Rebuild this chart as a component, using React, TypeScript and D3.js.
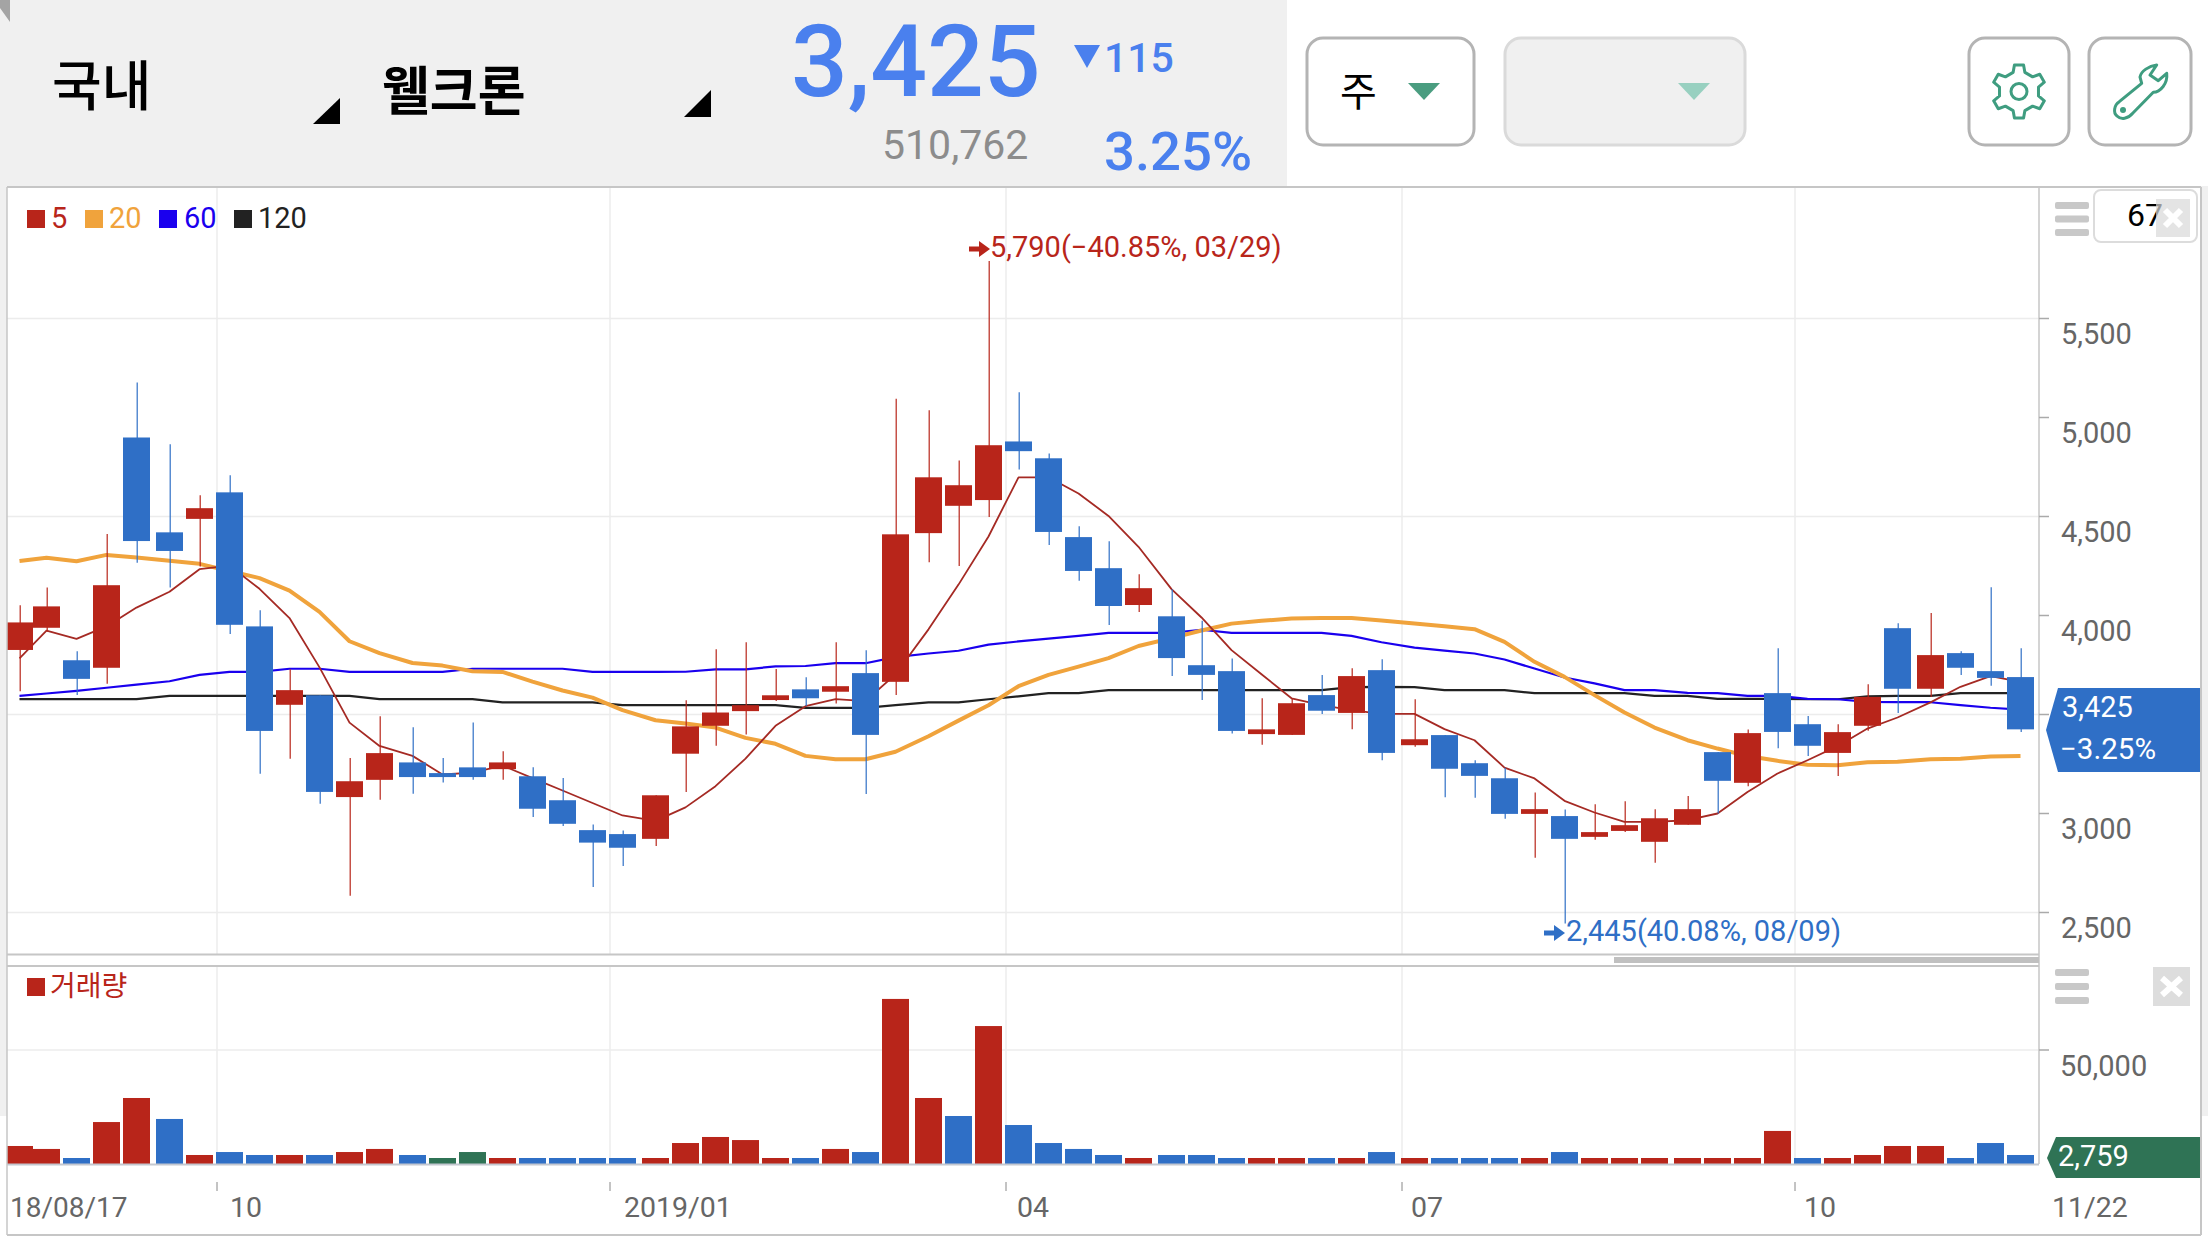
// @ts-nocheck
import { useRef, useEffect } from "react";
import * as d3 from "d3";

const WIDTH = 2208;
const HEIGHT = 1242;

// weekly candles, 2018/08/17 .. 2019/11/22 (67 weeks)
const weeks = d3.range(67).map((i) => `w${i}`);

const opens = [3826, 3938, 3774, 3736, 4899, 4420, 4488, 4622, 3945, 3549, 3597, 3083, 3170, 3258, 3204, 3233, 3224, 3188, 3067, 2916, 2896, 2872, 3302, 3443, 3517, 3573, 3627, 3615, 3709, 3665, 4416, 4554, 4583, 4879, 4794, 4396, 4239, 4053, 3996, 3749, 3719, 3401, 3397, 3598, 3508, 3724, 3345, 3396, 3254, 3178, 2998, 2987, 2882, 2912, 2857, 2943, 3310, 3155, 3608, 3451, 3306, 3443, 3936, 3630, 3810, 3719, 3689];
const highs = [4052, 4142, 3819, 4411, 5177, 4865, 4607, 4708, 4027, 3729, 3597, 3280, 3491, 3435, 3280, 3460, 3314, 3233, 3179, 2945, 2914, 3092, 3572, 3829, 3865, 3730, 3688, 3865, 3825, 5095, 5036, 4783, 5790, 5128, 4818, 4451, 4375, 4208, 4133, 3973, 3783, 3582, 3582, 3699, 3734, 3779, 3577, 3396, 3269, 3231, 3106, 3020, 3047, 3062, 3022, 3088, 3310, 3424, 3835, 3492, 3451, 3653, 3961, 4012, 3820, 4143, 3835];
const lows = [3617, 3918, 3599, 3655, 4266, 4142, 4247, 3906, 3201, 3276, 3049, 2584, 3069, 3100, 3156, 3170, 3170, 2982, 2937, 2629, 2735, 2836, 3109, 3342, 3399, 3568, 3543, 3556, 3098, 3599, 4269, 4250, 4498, 4738, 4356, 4175, 3952, 4018, 3695, 3573, 3404, 3347, 3397, 3502, 3426, 3269, 3337, 3082, 3079, 2973, 2776, 2445, 2867, 2907, 2751, 2943, 3000, 3138, 3330, 3290, 3189, 3418, 3507, 3589, 3699, 3645, 3412];
const closes = [3965, 4046, 3680, 4153, 4376, 4326, 4542, 3953, 3417, 3623, 3109, 3163, 3305, 3184, 3184, 3184, 3258, 3024, 2948, 2853, 2827, 3092, 3440, 3510, 3547, 3597, 3582, 3643, 3397, 4410, 4698, 4658, 4860, 4830, 4422, 4225, 4048, 4138, 3785, 3700, 3417, 3425, 3557, 3519, 3694, 3306, 3375, 3226, 3190, 2998, 3022, 2872, 2906, 2941, 2976, 3022, 3165, 3406, 3412, 3342, 3411, 3589, 3630, 3800, 3736, 3685, 3425];

const ma5 = [3783, 3924, 3882, 3945, 4040, 4120, 4234, 4252, 4135, 3987, 3738, 3459, 3341, 3291, 3197, 3206, 3242, 3179, 3116, 3053, 2990, 2963, 3031, 3138, 3277, 3443, 3542, 3578, 3568, 3703, 3930, 4156, 4399, 4698, 4698, 4616, 4503, 4347, 4133, 3990, 3825, 3703, 3582, 3547, 3522, 3503, 3503, 3426, 3370, 3232, 3177, 3064, 3005, 2958, 2958, 2966, 3000, 3109, 3202, 3269, 3340, 3429, 3485, 3561, 3640, 3694, 3665];
const ma20 = [4275, 4292, 4274, 4306, 4293, 4277, 4261, 4225, 4189, 4126, 4018, 3870, 3810, 3760, 3747, 3718, 3715, 3666, 3621, 3585, 3522, 3471, 3455, 3434, 3382, 3352, 3291, 3274, 3274, 3312, 3390, 3469, 3547, 3643, 3700, 3742, 3785, 3846, 3886, 3924, 3959, 3973, 3985, 3987, 3987, 3975, 3960, 3946, 3931, 3867, 3766, 3690, 3598, 3510, 3434, 3370, 3328, 3290, 3266, 3246, 3244, 3259, 3261, 3274, 3276, 3288, 3290];
const ma60 = [3594, 3606, 3619, 3635, 3651, 3668, 3700, 3715, 3715, 3731, 3731, 3715, 3715, 3715, 3715, 3731, 3731, 3731, 3731, 3715, 3715, 3715, 3716, 3728, 3728, 3743, 3745, 3759, 3759, 3790, 3808, 3822, 3853, 3869, 3883, 3897, 3912, 3912, 3912, 3928, 3912, 3912, 3912, 3912, 3897, 3865, 3838, 3823, 3808, 3778, 3732, 3687, 3657, 3623, 3623, 3609, 3608, 3594, 3594, 3579, 3577, 3564, 3562, 3562, 3547, 3534, 3525];
const ma120 = [3578, 3578, 3578, 3578, 3578, 3594, 3594, 3594, 3594, 3594, 3594, 3594, 3578, 3578, 3578, 3578, 3561, 3561, 3561, 3561, 3547, 3547, 3547, 3547, 3547, 3547, 3533, 3533, 3533, 3547, 3561, 3561, 3577, 3592, 3608, 3608, 3623, 3623, 3623, 3623, 3623, 3623, 3623, 3623, 3638, 3640, 3638, 3623, 3623, 3623, 3608, 3608, 3608, 3608, 3594, 3594, 3579, 3579, 3579, 3577, 3577, 3592, 3594, 3594, 3608, 3608, 3608];

const volumes = [7900, 6600, 2630, 18400, 28950, 19750, 3950, 5250, 3950, 3950, 3950, 5250, 6600, 3950, 2630, 5250, 2630, 2630, 2630, 2630, 2630, 2630, 9200, 11850, 10500, 2630, 2630, 6600, 5250, 72400, 28950, 21050, 60500, 17100, 9200, 6600, 3950, 2630, 3950, 3950, 2630, 2630, 2630, 2630, 2630, 5250, 2630, 2630, 2630, 2630, 2630, 5250, 2630, 2630, 2630, 2630, 2630, 2630, 14500, 2630, 2630, 3950, 7900, 7900, 2630, 9200, 3950];
// r = red, b = blue, g = green
const volumeKinds = "rrbrrbrbbrbrrbggrbbbbrrrrrbrbrrbrbbbbrbbbrrbrbrbbbrbrrrrrrrbrrrrbbb";

const priceTicks = [2500, 3000, 3500, 4000, 4500, 5000, 5500];
const priceGrid = [2500, 3500, 4500, 5500];
const volumeTicks = [50000];
const dateTicks = [
  { week: 7, label: "10", dx: 13 },
  { week: 20, label: "2019/01", dx: 14 },
  { week: 33, label: "04", dx: 11 },
  { week: 46, label: "07", dx: 9 },
  { week: 59, label: "10", dx: 9 },
];
const legend = [
  { label: "5", color: "#b8251a", sx: 27, tx: 51 },
  { label: "20", color: "#f0a33c", sx: 85, tx: 109 },
  { label: "60", color: "#1a00ee", sx: 159, tx: 184 },
  { label: "120", color: "#222222", sx: 234, tx: 258 },
];

const RED = "#b8251a";
const BLUE = "#2f6fc6";
const GREEN = "#2f7355";
const HEAD_BLUE = "#4a80ee";
const ICON = "#3f9d80";
const FONT = "Roboto, 'Noto Sans CJK KR', sans-serif";
const KR = "'Noto Sans CJK KR', sans-serif";

const gearPath = (cx, cy, rx, ry) => {
  // six toothed outline, slightly taller than wide like the app icon
  const pts = [];
  d3.range(6).forEach((k) => {
    const a = -Math.PI / 2 + (k * Math.PI) / 3;
    [
      [-0.3, 0.74],
      [-0.17, 1],
      [0.17, 1],
      [0.3, 0.74],
    ].forEach(([da, r]) => {
      pts.push([cx + rx * r * Math.cos(a + da), cy + ry * r * Math.sin(a + da)]);
    });
  });
  return d3.line().curve(d3.curveLinearClosed)(pts);
};

const App = () => {
  const svgRef = useRef();

  useEffect(() => {
    const svg = d3.select(svgRef.current);
    svg.selectAll("*").remove();

    const plotLeft = 7;
    const plotRight = 2039;
    const barWidth = 27;
    const x = d3.scaleBand().domain(weeks).range([3, 3 + 67 * 30.36]);
    // the source draws on a 3px device grid, so bars snap to it
    const left = (i) => (i === 0 ? 6 : Math.round(x(weeks[i]) / 3) * 3);
    const cx = (i) => left(i) + barWidth / 2;
    const y = d3.scaleLinear().domain([2500, 5500]).range([912.5, 318.5]);
    const vy = d3.scaleLinear().domain([0, 50000]).range([1164, 1050]);

    const defs = svg.append("defs");
    defs.append("clipPath").attr("id", "plot").append("rect").attr("x", plotLeft).attr("y", 187).attr("width", plotRight - plotLeft).attr("height", 1050);

    // --- header
    svg.append("rect").attr("width", 1287).attr("height", 186).attr("fill", "#f0f0f0");
    svg.append("rect").attr("y", 186).attr("width", 7).attr("height", 930).attr("fill", "#f0f0f0");
    svg.append("rect").attr("x", 2201).attr("y", 186).attr("width", 7).attr("height", 930).attr("fill", "#f0f0f0");
    svg.append("polygon").attr("points", "0,0 10,0 10,22 0,8").attr("fill", "#a4a4a4");

    const text = (str, tx, ty, size, color, opts = {}) =>
      svg
        .append("text")
        .attr("x", tx)
        .attr("y", ty)
        .attr("font-family", opts.family || FONT)
        .attr("font-size", size)
        .attr("font-weight", opts.weight || 400)
        .attr("fill", color)
        .attr("text-anchor", opts.anchor || "start")
        .attr("dominant-baseline", "central")
        .text(str);

    text("국내", 52, 82, 54, "#000", { family: KR, weight: 500 });
    text("웰크론", 382, 87, 52, "#000", { family: KR, weight: 700 });
    svg.append("polygon").attr("points", "313,124 340,124 340,98").attr("fill", "#000");
    svg.append("polygon").attr("points", "684,117 711,117 711,90").attr("fill", "#000");
    text("3,425", 791, 61, 100, HEAD_BLUE, { weight: 500 });
    svg.append("polygon").attr("points", "1074,45 1100,45 1087,68").attr("fill", HEAD_BLUE);
    text("115", 1104, 58, 41, HEAD_BLUE, { weight: 500 });
    text("510,762", 882, 145, 41, "#8c8c8c");
    text("3.25%", 1104, 151, 54.5, HEAD_BLUE, { weight: 500 });

    // --- buttons
    const button = (bx, bw, fill, stroke) =>
      svg.append("rect").attr("x", bx).attr("y", 38).attr("width", bw).attr("height", 107).attr("rx", 16).attr("fill", fill).attr("stroke", stroke).attr("stroke-width", 3);
    button(1307, 167, "#fff", "#b4b4b4");
    button(1505, 240, "#f0f0f0", "#dadada");
    button(1969, 100, "#fff", "#b4b4b4");
    button(2089, 102, "#fff", "#b4b4b4");
    text("주", 1340, 89, 40, "#000", { family: KR });
    svg.append("polygon").attr("points", "1408,83 1440,83 1424,100").attr("fill", "#4a9d80");
    svg.append("polygon").attr("points", "1678,83 1710,83 1694,100").attr("fill", "#98d0c0");

    svg.append("path").attr("d", gearPath(2019, 91.5, 27, 27)).attr("fill", "none").attr("stroke", ICON).attr("stroke-width", 3).attr("stroke-linejoin", "round");
    svg.append("circle").attr("cx", 2019).attr("cy", 91.5).attr("r", 8).attr("fill", "none").attr("stroke", ICON).attr("stroke-width", 3);
    svg
      .append("path")
      .attr("d", "M2156.7 65 C2149 66 2141 71 2140 77 L2141.7 83.3 L2119.3 101.7 C2114 105 2113 113 2117 116 C2121 120 2128 119 2132.7 113.3 L2153.3 92.3 C2160 92 2168 84 2166.7 73.3 L2158.3 80.7 L2150 75 Z")
      .attr("fill", "none")
      .attr("stroke", ICON)
      .attr("stroke-width", 3)
      .attr("stroke-linejoin", "round");
    svg.append("circle").attr("cx", 2123).attr("cy", 110).attr("r", 3).attr("fill", ICON);

    // --- grid
    const gridColor = "#ececec";
    dateTicks.forEach((t) => {
      const gx = left(t.week) + 1;
      svg.append("line").attr("x1", gx).attr("x2", gx).attr("y1", 188).attr("y2", 954).attr("stroke", gridColor).attr("stroke-width", 1.5);
      svg.append("line").attr("x1", gx).attr("x2", gx).attr("y1", 966).attr("y2", 1164).attr("stroke", gridColor).attr("stroke-width", 1.5);
      svg.append("line").attr("x1", gx).attr("x2", gx).attr("y1", 1182).attr("y2", 1191).attr("stroke", "#888").attr("stroke-width", 1);
      text(t.label, gx + t.dx, 1207, 28.5, "#666");
    });
    priceGrid.forEach((v) => {
      svg.append("line").attr("x1", plotLeft).attr("x2", plotRight).attr("y1", y(v)).attr("y2", y(v)).attr("stroke", gridColor).attr("stroke-width", 1.5);
    });
    volumeTicks.forEach((v) => {
      svg.append("line").attr("x1", plotLeft).attr("x2", plotRight).attr("y1", vy(v)).attr("y2", vy(v)).attr("stroke", gridColor).attr("stroke-width", 1.5);
    });

    // --- moving averages go under the candles
    const line = d3
      .line()
      .x((d, i) => cx(i))
      .y((d) => y(d));
    const plot = svg.append("g").attr("clip-path", "url(#plot)");
    [
      [ma120, "#222222", 2.2],
      [ma60, "#1a00ee", 2.2],
      [ma20, "#f0a33c", 4],
      [ma5, "#a52a24", 1.8],
    ].forEach(([values, color, w]) => {
      plot.append("path").attr("d", line(values)).attr("fill", "none").attr("stroke", color).attr("stroke-width", w).attr("stroke-linejoin", "round");
    });

    // candles
    weeks.forEach((w, i) => {
      const up = closes[i] >= opens[i];
      const color = up ? RED : BLUE;
      plot.append("line").attr("x1", cx(i) + 0.7).attr("x2", cx(i) + 0.7).attr("y1", y(highs[i])).attr("y2", y(lows[i])).attr("stroke", color).attr("stroke-width", 1.2);
      plot
        .append("rect")
        .attr("x", left(i))
        .attr("width", barWidth)
        .attr("y", y(Math.max(opens[i], closes[i])))
        .attr("height", Math.abs(y(opens[i]) - y(closes[i])))
        .attr("fill", color);
    });

    // volume bars
    const kindColor = { r: RED, b: BLUE, g: GREEN };
    weeks.forEach((w, i) => {
      plot
        .append("rect")
        .attr("x", left(i))
        .attr("width", barWidth)
        .attr("y", vy(volumes[i]))
        .attr("height", vy(0) - vy(volumes[i]))
        .attr("fill", kindColor[volumeKinds[i]]);
    });

    // --- frames
    const frame = "#c6c6c6";
    const hline = (yy, x1 = plotLeft, x2 = 2201, c = frame, w = 2) =>
      svg.append("line").attr("x1", x1).attr("x2", x2).attr("y1", yy).attr("y2", yy).attr("stroke", c).attr("stroke-width", w);
    hline(187);
    hline(954.5, plotLeft, plotRight);
    hline(966, plotLeft, 2039);
    hline(1164.5, plotLeft, plotRight, "#c4c8d0", 2);
    hline(1235);
    svg.append("line").attr("x1", plotLeft).attr("x2", plotLeft).attr("y1", 187).attr("y2", 1235).attr("stroke", frame).attr("stroke-width", 1.5);
    svg.append("line").attr("x1", 2201).attr("x2", 2201).attr("y1", 187).attr("y2", 1235).attr("stroke", frame).attr("stroke-width", 2);
    svg.append("line").attr("x1", plotRight).attr("x2", plotRight).attr("y1", 187).attr("y2", 1164).attr("stroke", frame).attr("stroke-width", 1.5);
    svg.append("rect").attr("x", 1614).attr("y", 957).attr("width", plotRight - 1614).attr("height", 6).attr("fill", "#c0c0c0");

    // --- right axis
    priceTicks.forEach((v) => {
      svg.append("line").attr("x1", plotRight).attr("x2", 2049).attr("y1", y(v)).attr("y2", y(v)).attr("stroke", "#aaa").attr("stroke-width", 1.5);
      if (v !== 3500) text(d3.format(",")(v), 2061, y(v) + 15, 29, "#666");
    });
    volumeTicks.forEach((v) => {
      svg.append("line").attr("x1", plotRight).attr("x2", 2049).attr("y1", vy(v)).attr("y2", vy(v)).attr("stroke", "#aaa").attr("stroke-width", 1.5);
      text(d3.format(",")(v), 2060, vy(v) + 16, 29, "#666");
    });
    text("18/08/17", 10, 1207, 28, "#666");
    text("11/22", 2052, 1207, 28.5, "#666");

    // last value tags
    svg.append("polygon").attr("points", "2058,688 2200,688 2200,772 2058,772 2046,730").attr("fill", BLUE);
    text("3,425", 2062, 707, 29, "#fff");
    text("−3.25%", 2060, 749, 29.5, "#fff");
    svg.append("polygon").attr("points", "2056,1137 2200,1137 2200,1178 2056,1178 2047,1158").attr("fill", GREEN);
    text("2,759", 2058, 1156, 29, "#fff");

    // --- legends
    legend.forEach((d) => {
      svg.append("rect").attr("x", d.sx).attr("y", 210).attr("width", 18).attr("height", 18).attr("fill", d.color);
      text(d.label, d.tx, 218, 29, d.color);
    });
    svg.append("rect").attr("x", 27).attr("y", 978).attr("width", 18).attr("height", 18).attr("fill", RED);
    text("거래량", 50, 984, 28, RED, { family: KR });

    // high / low notes, with the heavy arrow the app puts in front
    const noteArrow = (ax, ay, color) =>
      svg
        .append("path")
        .attr("d", `M${ax} ${ay - 2.5}H${ax + 10}V${ay - 8}L${ax + 21} ${ay}L${ax + 10} ${ay + 8}V${ay + 2.5}H${ax}Z`)
        .attr("fill", color);
    noteArrow(969, 249, RED);
    text("5,790(−40.85%, 03/29)", 990, 247, 29, RED);
    noteArrow(1544, 933, BLUE);
    text("2,445(40.08%, 08/09)", 1566, 931, 29, BLUE);

    // --- panel widgets
    const menu = (ys) =>
      ys.forEach((my) => svg.append("rect").attr("x", 2055).attr("y", my).attr("width", 34).attr("height", 7).attr("rx", 2).attr("fill", "#c8c8c8"));
    const closeBox = (bx, by, bw, bh, alpha) => {
      svg.append("rect").attr("x", bx).attr("y", by).attr("width", bw).attr("height", bh).attr("fill", "#d9d9d9").attr("fill-opacity", alpha);
      const m = 9;
      svg
        .append("path")
        .attr("d", `M${bx + m} ${by + m + 2}L${bx + bw - m} ${by + bh - m - 2}M${bx + bw - m} ${by + m + 2}L${bx + m} ${by + bh - m - 2}`)
        .attr("stroke", "#fff")
        .attr("stroke-width", 6);
    };
    menu([202, 215.5, 229]);
    svg.append("rect").attr("x", 2094).attr("y", 190).attr("width", 103).attr("height", 52).attr("rx", 7).attr("fill", "#fff").attr("stroke", "#dcdcdc").attr("stroke-width", 2);
    text("67", 2127, 215, 32, "#000");
    closeBox(2156, 199, 34, 38, 0.7);
    menu([969, 983, 997]);
    closeBox(2153, 967, 37, 39, 0.9);
  }, []);

  return <svg ref={svgRef} width={WIDTH} height={HEIGHT} style={{ position: "absolute", left: 0, top: 0, background: "#fff" }}></svg>;
};

export default App;
